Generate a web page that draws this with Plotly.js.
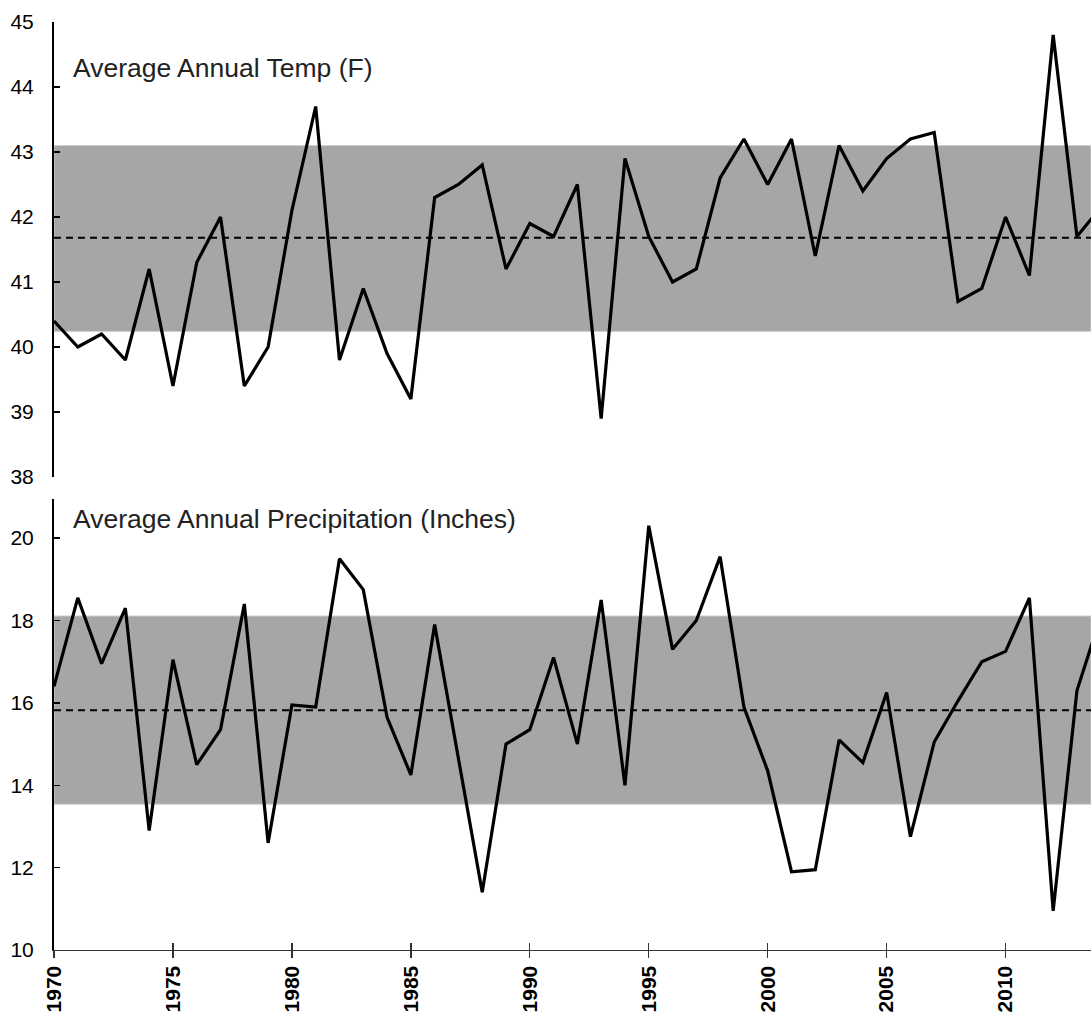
<!DOCTYPE html>
<html>
<head>
<meta charset="utf-8">
<script src="https://cdn.plot.ly/plotly-3.0.1.min.js"></script>
<style>
  html, body { margin: 0; padding: 0; background: #fff; }
  #chart { width: 1091px; height: 1013px; }
</style>
</head>
<body>
<div id="chart"></div>
<script>
// ---- data ----
const years = [1970,1971,1972,1973,1974,1975,1976,1977,1978,1979,
               1980,1981,1982,1983,1984,1985,1986,1987,1988,1989,
               1990,1991,1992,1993,1994,1995,1996,1997,1998,1999,
               2000,2001,2002,2003,2004,2005,2006,2007,2008,2009,
               2010,2011,2012,2013,2014];

const tempValues = [40.4,40.0,40.2,39.8,41.2,39.4,41.3,42.0,39.4,40.0,
                    42.1,43.7,39.8,40.9,39.9,39.2,42.3,42.5,42.8,41.2,
                    41.9,41.7,42.5,38.9,42.9,41.7,41.0,41.2,42.6,43.2,
                    42.5,43.2,41.4,43.1,42.4,42.9,43.2,43.3,40.7,40.9,
                    42.0,41.1,44.8,41.7,42.15];

const precipValues = [16.4,18.55,16.95,18.3,12.9,17.05,14.5,15.35,18.4,12.6,
                      15.95,15.9,19.5,18.75,15.65,14.25,17.9,14.7,11.4,15.0,
                      15.35,17.1,15.0,18.5,14.0,20.3,17.3,18.0,19.55,15.9,
                      14.35,11.9,11.95,15.1,14.55,16.25,12.75,15.05,16.05,17.0,
                      17.25,18.55,10.95,16.3,18.1];

const tempMean = 41.68;
const tempBand = [40.24, 43.10];
const precipMean = 15.82;
const precipBand = [13.54, 18.11];

const tempTicks = [38,39,40,41,42,43,44,45];
const precipTicks = [10,12,14,16,18,20];
const yearTicks = [1970,1975,1980,1985,1990,1995,2000,2005,2010];

const tempTitle = 'Average Annual Temp (F)';
const precipTitle = 'Average Annual Precipitation (Inches)';

// ---- chart ----
const FONT = 'Liberation Sans, Arial, Helvetica, sans-serif';
const xRange = [1970, 2013.59];

const traces = [
  { x: years, y: tempValues, xaxis: 'x2', yaxis: 'y2', type: 'scatter', mode: 'lines',
    line: { color: '#000', width: 3.2 }, hoverinfo: 'x+y' },
  { x: years, y: precipValues, xaxis: 'x', yaxis: 'y', type: 'scatter', mode: 'lines',
    line: { color: '#000', width: 3.2 }, hoverinfo: 'x+y' }
];

const bandStyle = { fillcolor: '#a6a6a6', line: { color: '#cfcfcf', width: 1 }, layer: 'below' };
const dashStyle = { color: '#000', width: 2, dash: '7px,5px' };

const shapes = [
  Object.assign({ type: 'rect', xref: 'x2 domain', yref: 'y2', x0: 0, x1: 1,
                  y0: tempBand[0], y1: tempBand[1] }, bandStyle),
  { type: 'line', xref: 'x2 domain', yref: 'y2', x0: 0, x1: 1, y0: tempMean, y1: tempMean,
    line: dashStyle, layer: 'below' },
  Object.assign({ type: 'rect', xref: 'x domain', yref: 'y', x0: 0, x1: 1,
                  y0: precipBand[0], y1: precipBand[1] }, bandStyle),
  { type: 'line', xref: 'x domain', yref: 'y', x0: 0, x1: 1, y0: precipMean, y1: precipMean,
    line: dashStyle, layer: 'below' }
];

const yCommon = {
  showline: true, linecolor: '#000', linewidth: 2,
  ticks: 'inside', ticklen: 6, tickwidth: 1.5, tickcolor: '#000',
  showgrid: false, zeroline: false,
  tickfont: { family: FONT, size: 21, color: '#000' },
  ticklabelstandoff: 14,
  tickmode: 'array'
};

const layout = {
  width: 1091, height: 1013,
  margin: { l: 54, r: 0, t: 22, b: 63, pad: 0 },
  paper_bgcolor: '#fff', plot_bgcolor: '#fff',
  showlegend: false,
  font: { family: FONT },
  xaxis: {
    domain: [0, 1], anchor: 'y', range: xRange,
    tickmode: 'array', tickvals: yearTicks, ticktext: yearTicks.map(String),
    tickangle: -90,
    tickfont: { family: FONT, size: 21, color: '#000', weight: 'bold' },
    ticklabelstandoff: -1,
    showline: true, linecolor: '#333', linewidth: 1.3,
    ticks: 'outside', ticklen: 7, tickwidth: 1.3, tickcolor: '#333',
    showgrid: false, zeroline: false
  },
  xaxis3: {
    overlaying: 'x', anchor: 'y', range: xRange,
    tickmode: 'array', tickvals: yearTicks,
    showticklabels: false, showline: false, showgrid: false, zeroline: false,
    ticks: 'inside', ticklen: 7, tickwidth: 1.3, tickcolor: '#333'
  },
  yaxis: Object.assign({}, yCommon, {
    domain: [0, 0.486], anchor: 'x', range: [10, 20.95], tickvals: precipTicks
  }),
  xaxis2: {
    domain: [0, 1], anchor: 'y2', range: xRange, visible: false
  },
  yaxis2: Object.assign({}, yCommon, {
    domain: [0.5097, 1], anchor: 'x2', range: [38, 45], tickvals: tempTicks
  }),
  shapes: shapes,
  annotations: [
    { text: tempTitle, xref: 'paper', yref: 'paper', x: 0.0165, y: 0.950,
      xanchor: 'left', yanchor: 'middle', showarrow: false,
      font: { family: FONT, size: 26.5, color: '#222' } },
    { text: precipTitle, xref: 'paper', yref: 'paper', x: 0.0165, y: 0.4645,
      xanchor: 'left', yanchor: 'middle', showarrow: false,
      font: { family: FONT, size: 26.5, color: '#222' } }
  ]
};

// empty trace so the overlay axis with crossing ticks is drawn
traces.push({ x: [], y: [], xaxis: 'x3', yaxis: 'y', type: 'scatter', mode: 'lines', hoverinfo: 'skip' });

Plotly.newPlot('chart', traces, layout, { staticPlot: true, displayModeBar: false });
</script>
</body>
</html>
